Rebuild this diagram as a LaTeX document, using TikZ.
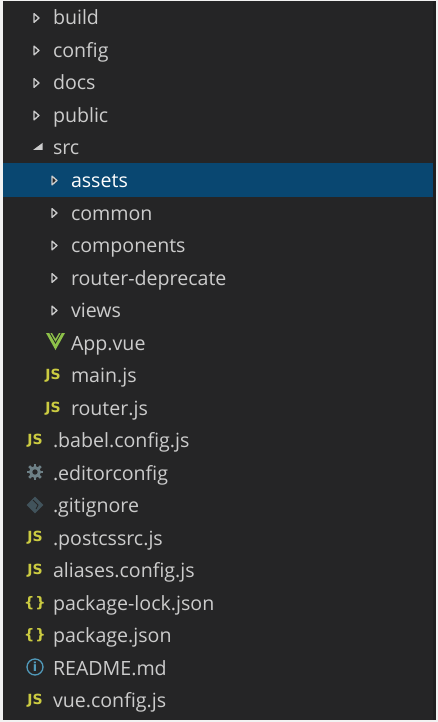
\documentclass[tikz,border=0pt]{standalone}
\usepackage{fontspec}
\setmainfont{Open Sans}
\newfontfamily\iconfont{DejaVu Sans}
\definecolor{panelbg}{HTML}{252526}
\definecolor{edgebg}{HTML}{1F1F20}
\definecolor{selectbg}{HTML}{094771}
\definecolor{labelgray}{HTML}{CCCCCC}
\definecolor{jsyellow}{HTML}{CBCB41}
\definecolor{vuegreen}{HTML}{8DC149}
\definecolor{gearblue}{HTML}{6D8086}
\definecolor{gitblue}{HTML}{41535B}
\definecolor{infoblue}{HTML}{519ABA}

\begin{document}
\begin{tikzpicture}[x=1pt,y=-1pt]
        \tikzset{
            every node/.style={inner sep=0pt,outer sep=0pt},
            item/.style={anchor=base west,text=labelgray,font=\fontsize{19.6}{22}\selectfont},
            jsicon/.style={anchor=base,text=jsyellow,font=\iconfont\bfseries\fontsize{14}{15}\selectfont},
            jsonicon/.style={anchor=base,text=jsyellow,font=\iconfont\bfseries\fontsize{14.5}{16}\selectfont},
            twisty/.style={draw=labelgray,fill=panelbg,line width=1.3pt,line join=round},
        }
        \useasboundingbox (0,0) rectangle (438,722);
        \fill[white!95!black] (0,0) rectangle (438,722);
        \fill[edgebg] (3,1) rectangle (436,720);
        \fill[panelbg] (3,1) rectangle (433,720);
        \fill[selectbg] (3,163) rectangle (433,197);

        % closed folders
        \foreach \xpos/\ypos in {34/18,34/50.5,34/83,34/115.5,52/180.5,52/213,52/245.5,52/278,52/310.5} {
            \draw[twisty] (\xpos,\ypos-4.4) -- (\xpos+5,\ypos) -- (\xpos,\ypos+4.4) -- cycle;
        }
        % open folder
        \fill[labelgray] (33,150) -- (42.5,150) -- (42.5,143) -- cycle;

        \node[item] (build) at (53,25) {build};
        \node[item] (config) at (53,57.5) {config};
        \node[item] (docs) at (53,90) {docs};
        \node[item] (public) at (53,122.5) {public};
        \node[item] (src) at (53,155) {src};
        \node[item,text=white] (assets) at (71,187.5) {assets};
        \node[item] (common) at (71,220) {common};
        \node[item] (components) at (71,252.5) {components};
        \node[item] (deprecate) at (71,285) {router-deprecate};
        \node[item] (views) at (71,317.5) {views};
        \node[item] (app) at (71,350) {App.vue};
        \node[item] (main) at (71,382.5) {main.js};
        \node[item] (router) at (71,415) {router.js};
        \node[item] (babel) at (53,447.5) {.babel.config.js};
        \node[item] (editor) at (53,480) {.editorconfig};
        \node[item] (gitignore) at (53,512.5) {.gitignore};
        \node[item] (postcss) at (53,545) {.postcssrc.js};
        \node[item] (aliases) at (53,577.5) {aliases.config.js};
        \node[item] (lock) at (53,610) {package-lock.json};
        \node[item] (package) at (53,642.5) {package.json};
        \node[item] (readme) at (53,675) {README.md};
        \node[item] (vueconfig) at (53,707.5) {vue.config.js};

        % file icons
        \node[jsicon] (mainjs) at (53,379.5) {JS};
        \node[jsicon] (routerjs) at (53,412) {JS};
        \node[jsicon] (babeljs) at (35,444.5) {JS};
        \node[jsicon] (postcssjs) at (35,541.5) {JS};
        \node[jsicon] (aliasesjs) at (35,574.5) {JS};
        \node[jsicon] (vuejs) at (35,704.5) {JS};
        \node[jsonicon] (lockjson) at (35,607) {\{\kern1pt\}};
        \node[jsonicon] (packagejson) at (35,639.5) {\{\kern1pt\}};

        % vue
        \fill[vuegreen] (46,333) -- (52,333) -- (55.5,339) -- (59,333) -- (65,333) -- (55.5,350) -- cycle;
        \draw[panelbg,line width=0.8pt] (49.5,332.5) -- (55.5,343) -- (61.5,332.5);
        % gear
        \foreach \ang in {0,45,...,315} {
            \draw[gearblue,line width=2.6pt] (35,472)++(\ang:4) -- ++(\ang:4.2);
        }
        \draw[gearblue,line width=3pt] (35,472) circle (4.4);
        % git
        \fill[gitblue,rotate around={45:(35,505)}] (29,499) rectangle (41,511);
        \draw[panelbg,line width=0.9pt] (33,500) -- (38,505) -- (36,509);
        % info
        \draw[infoblue,line width=1.3pt] (35,667) circle (8);
        \node[text=infoblue,font=\iconfont\bfseries\fontsize{12.5}{13}\selectfont] (infomark) at (35,667) {i};
\end{tikzpicture}
\end{document}
